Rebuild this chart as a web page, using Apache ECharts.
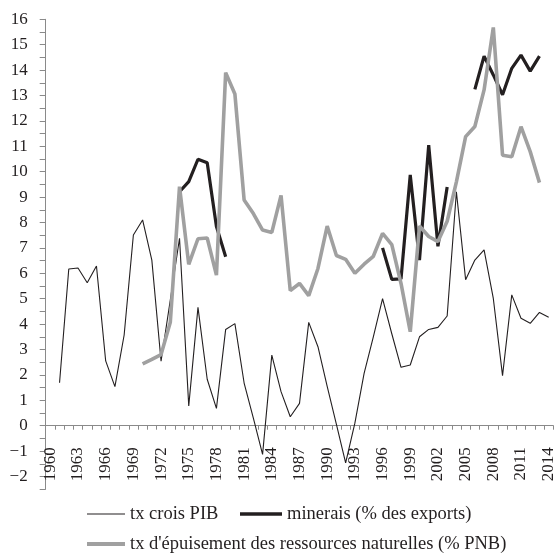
<!DOCTYPE html>
<html><head><meta charset="utf-8">
<script src="https://cdn.jsdelivr.net/npm/echarts@6/dist/echarts.min.js"></script>
<style>html,body{margin:0;padding:0;background:#fff}#c{width:559px;height:554px}</style>
</head><body><div id="c"></div>
<script>
const years = [];
for (let y = 1960; y <= 2014; y++) years.push(String(y));

const pib = [null,1.69,6.17,6.21,5.63,6.29,2.55,1.54,3.57,7.51,
  8.1,6.52,2.54,4.95,7.38,0.78,4.66,1.83,0.68,3.79,
  4.02,1.68,0.3,-1.13,2.78,1.34,0.35,0.88,4.07,3.11,
  1.55,0.05,-1.46,0.1,2.06,3.5,5.0,3.62,2.3,2.39,
  3.5,3.79,3.87,4.32,9.21,5.75,6.52,6.92,5.01,1.97,
  5.15,4.23,4.03,4.46,4.27];

const minerais = [null,null,null,null,null,null,null,null,null,null,
  null,null,null,null,9.21,9.61,10.49,10.35,7.84,6.65,
  null,null,null,null,null,null,null,null,null,null,
  null,null,null,null,null,null,7.0,5.76,5.78,9.87,
  6.52,11.05,7.06,9.4,null,null,13.24,14.55,13.81,13.03,
  14.07,14.59,13.96,14.55,null];

const epuisement = [null,null,null,null,null,null,null,null,null,null,
  2.43,2.61,2.8,4.07,9.41,6.35,7.36,7.39,5.93,13.9,
  13.06,8.89,8.35,7.7,7.61,9.07,5.32,5.6,5.12,6.19,
  7.86,6.7,6.55,6.0,6.36,6.67,7.57,7.13,5.6,3.7,
  7.86,7.45,7.25,8.05,9.6,11.38,11.78,13.22,15.68,10.65,
  10.59,11.77,10.79,9.57,null];

const names = ['tx crois PIB', 'minerais (% des exports)', "tx d'épuisement des ressources naturelles (% PNB)"];

const FONT = 'Liberation Serif';
const TXT = '#231f20';
const AX = '#8a8a8a';

const chart = echarts.init(document.getElementById('c'), null, {renderer: 'canvas'});
const legendText = {fontFamily: FONT, fontSize: 18.5, color: TXT, lineHeight: 22};
chart.setOption({
  animation: false,
  backgroundColor: '#fff',
  grid: {left: 45.7, right: 5.7, top: 19.3, bottom: 64.8, containLabel: false},
  legend: [
    {data: [names[0]], left: 87, top: 503, padding: 0, icon: 'rect', itemWidth: 38, itemHeight: 1.2, textStyle: legendText, selectedMode: false},
    {data: [names[1]], left: 240, top: 503, padding: 0, icon: 'rect', itemWidth: 42, itemHeight: 3.5, textStyle: legendText, selectedMode: false},
    {data: [names[2]], left: 87, top: 533, padding: 0, icon: 'rect', itemWidth: 38, itemHeight: 4, textStyle: legendText, selectedMode: false}
  ],
  xAxis: [{
    type: 'category', data: years, boundaryGap: true,
    axisLine: {onZero: true, lineStyle: {color: AX, width: 1}},
    axisTick: {show: true, interval: 0, length: 4, lineStyle: {color: AX}},
    axisLabel: {show: false},
    splitLine: {show: false}
  }, {
    type: 'category', data: years, boundaryGap: true, position: 'bottom',
    axisLine: {show: false, onZero: false},
    axisTick: {show: false},
    axisLabel: {interval: 2, rotate: 90, margin: -42, fontFamily: FONT, fontSize: 17, color: TXT},
    splitLine: {show: false}
  }],
  yAxis: {
    type: 'value', min: -2.5, max: 16, interval: 0.5,
    axisLine: {show: true, onZero: false, lineStyle: {color: AX, width: 1}},
    axisTick: {show: true, length: 6, lineStyle: {color: AX}},
    axisLabel: {margin: 18, fontFamily: FONT, fontSize: 17, color: TXT,
      formatter: v => Number.isInteger(v) ? (v < 0 ? '\u2212' + (-v) : String(v)) : ''},
    splitLine: {show: false}
  },
  series: [
    {name: names[0], type: 'line', data: pib, symbol: 'none', color: '#231f20',
      lineStyle: {width: 1.1, color: '#231f20'}, connectNulls: false},
    {name: names[1], type: 'line', data: minerais, symbol: 'none', color: '#231f20',
      lineStyle: {width: 3.2, color: '#231f20'}, connectNulls: false},
    {name: names[2], type: 'line', data: epuisement, symbol: 'none', color: '#a0a0a0',
      lineStyle: {width: 3.6, color: '#a0a0a0'}, connectNulls: false}
  ]
});
</script></body></html>
